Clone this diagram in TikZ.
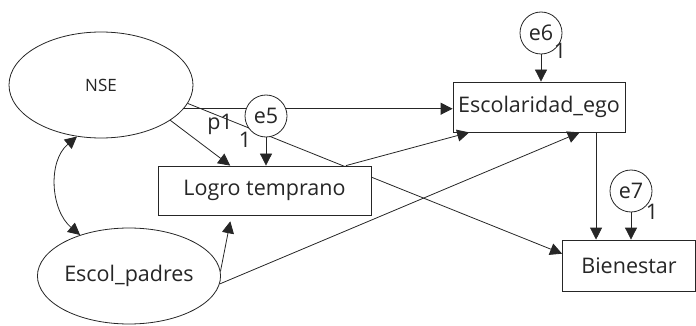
\documentclass[tikz,border=0pt]{standalone}
\usepackage{fontspec}
\setmainfont{Open Sans}
\usetikzlibrary{arrows.meta,shapes.geometric,backgrounds}
\begin{document}
\begin{tikzpicture}[x=1pt,y=-1pt,
  every node/.style={text=black!85},
  big/.style={font=\fontsize{21.5}{25}\selectfont},
  small/.style={font=\fontsize{17}{20}\selectfont},
  var/.style={draw=black!85, rectangle, fill=white, inner sep=0pt, line width=0.8pt, big},
  lat/.style={draw=black!85, ellipse, fill=white, inner sep=0pt, line width=0.8pt},
  err/.style={draw=black!85, circle, fill=white, minimum size=42pt, inner sep=0pt, line width=0.8pt, big},
  conn/.style={draw=black!85, -{Triangle[length=12pt,width=12pt]}, line width=0.8pt},
  both/.style={draw=black!85, {Triangle[length=12pt,width=12pt]}-{Triangle[length=12pt,width=12pt]}, line width=0.8pt},
  lbl/.style={inner sep=0pt, big}]
\useasboundingbox (0,0) rectangle (696,326);

\node[lat, small, minimum width=184pt, minimum height=106pt] (NSE) at (101,85) {NSE};
\node[lat, big, minimum width=170pt, minimum height=96pt] (Padres) at (129,276) {Escol\_padres};
\node[var, minimum width=213pt, minimum height=49pt] (Logro) at (264.5,190.5) {Logro temprano};
\node[var, minimum width=172pt, minimum height=50pt] (Ego) at (539,107) {Escolaridad\_ego};
\node[var, minimum width=133pt, minimum height=51pt] (Bien) at (629,265.5) {Bienestar};
\node[err] (e5) at (266,116) {e5};
\node[err] (e6) at (541,33) {e6};
\node[err] (e7) at (631,191) {e7};

\node[lbl] (p1) at (220,124) {p1};
\node[lbl] (l5) at (245,140) {1};
\node[lbl] (l6) at (560,51) {1};
\node[lbl] (l7) at (652,212) {1};

\begin{pgfonlayer}{background}
\draw[conn] (NSE.-16) -- (NSE.-16 -| Ego.west);
\draw[conn] (NSE.-12.3) -- (Bien.170.3);
\end{pgfonlayer}

\draw[conn] (NSE.-27) -- (Logro.144.6);
\draw[conn] (e5.south) -- (e5.south |- Logro.north);
\draw[conn] (e6.south) -- (e6.south |- Ego.north);
\draw[conn] (e7.south) -- (e7.south |- Bien.north);
\draw[conn] (Logro.17.1) -- (Ego.-160.1);
\draw[conn] (Padres.-5) -- (Ego.-32.7);
\draw[conn, shorten >=6pt] (Padres.3) -- (Logro.-143);
\draw[conn] (Ego.-24.8) -- (Ego.-24.8 |- Bien.north);
\draw[both] (NSE.-115) to[out=-140,in=140] (Padres.140);
\end{tikzpicture}
\end{document}
